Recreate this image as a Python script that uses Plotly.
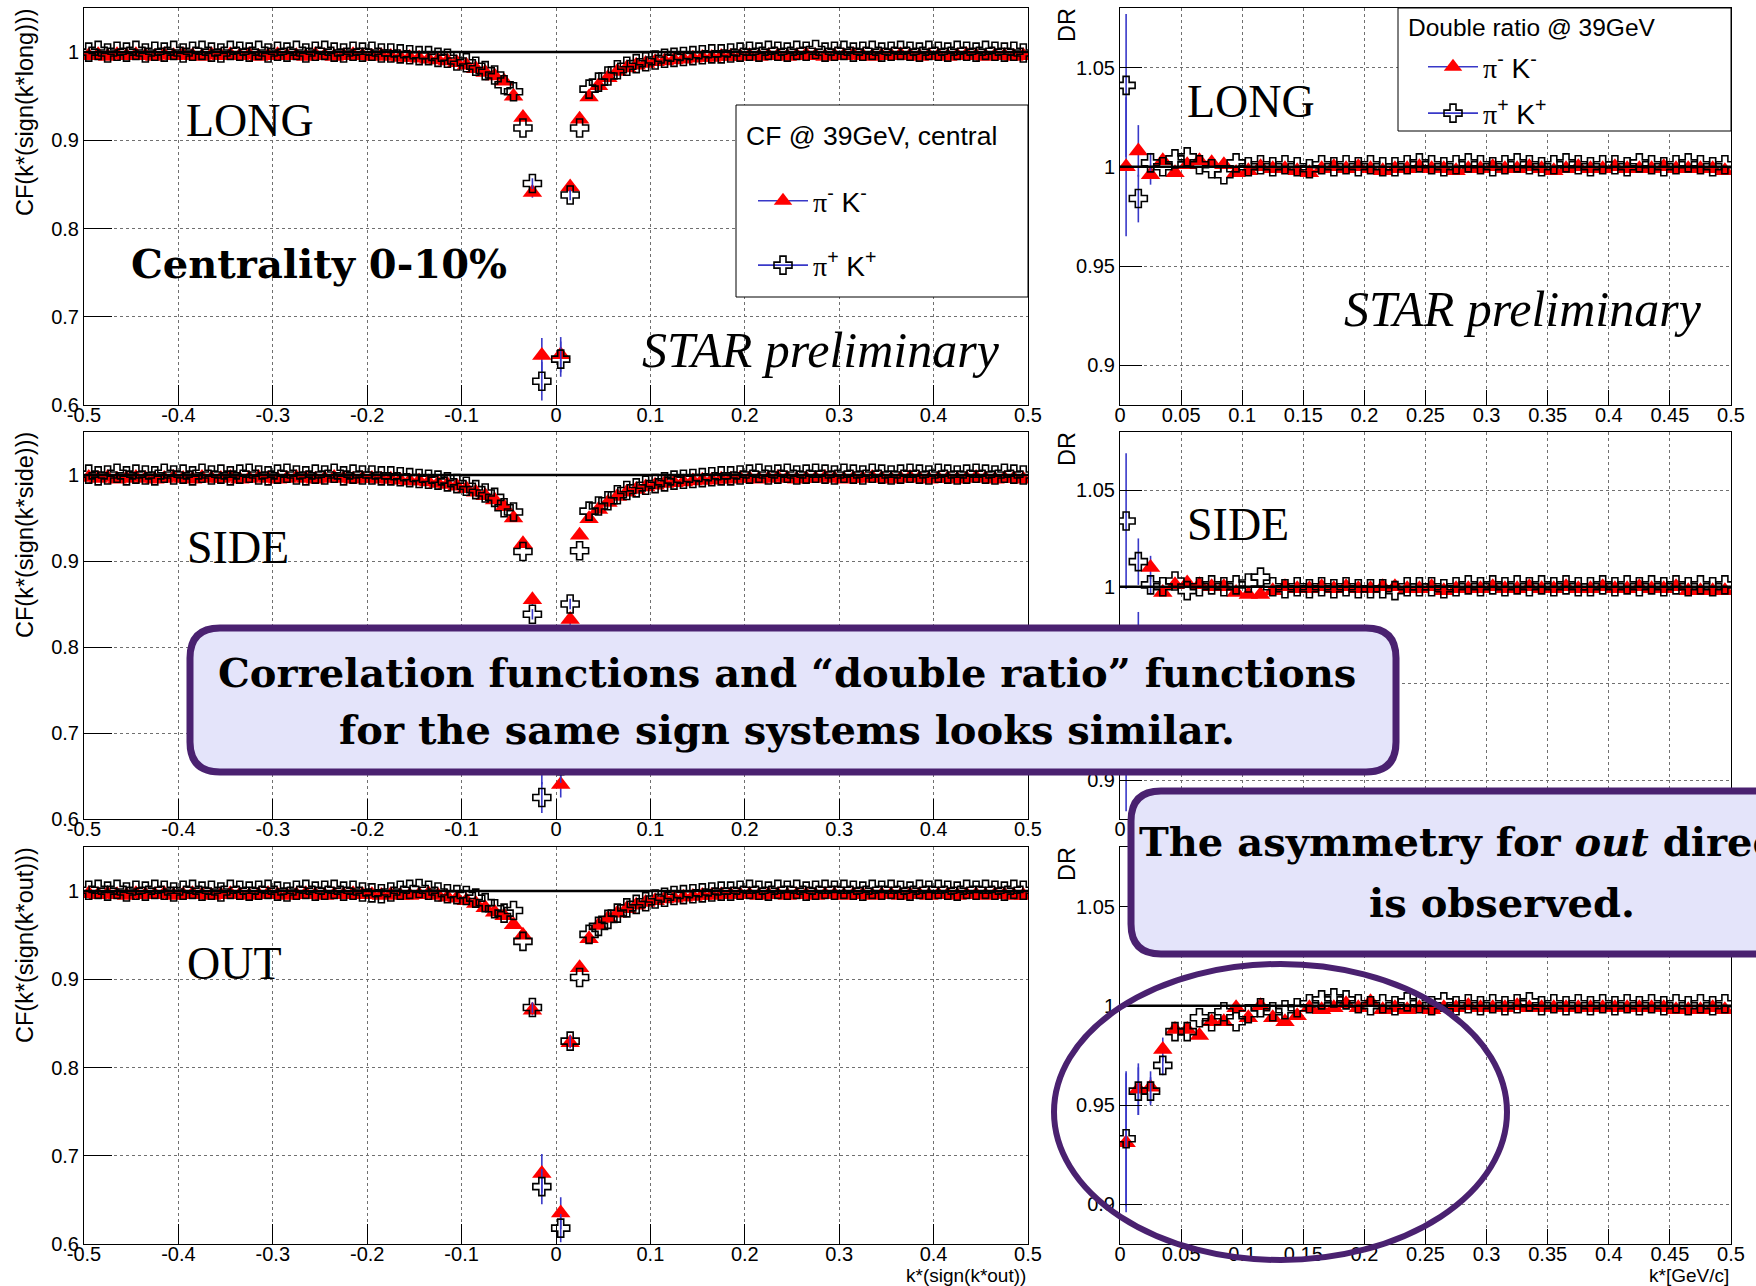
import plotly.graph_objects as go

W, H = 1756, 1286

# ---------------- data ----------------
K_CF = [round(-0.495 + 0.01 * i, 3) for i in range(100)]   # bin centres, k*(sign) [GeV/c]
K_DR = [round(0.005 + 0.01 * i, 3) for i in range(50)]     # bin centres, k* [GeV/c]

CF_LONG_PIMKM = [
    0.996, 0.997, 0.995, 0.997, 0.996, 0.997, 0.996, 0.995, 0.997, 0.996,
    0.997, 0.996, 0.995, 0.997, 0.996, 0.997, 0.996, 0.997, 0.995, 0.996,
    0.997, 0.996, 0.996, 0.995, 0.997, 0.996, 0.995, 0.996, 0.997, 0.996,
    0.995, 0.996, 0.995, 0.994, 0.994, 0.993, 0.992, 0.991, 0.990, 0.988,
    0.985, 0.981, 0.977, 0.973, 0.967, 0.950, 0.926, 0.841, 0.656, None,
    0.657, 0.847, 0.924, 0.949, 0.962, 0.971, 0.978, 0.982, 0.985, 0.987,
    0.989, 0.990, 0.991, 0.992, 0.993, 0.994, 0.994, 0.995, 0.995, 0.995,
    0.996, 0.995, 0.996, 0.996, 0.995, 0.996, 0.997, 0.996, 0.995, 0.996,
    0.996, 0.997, 0.996, 0.995, 0.996, 0.996, 0.997, 0.996, 0.995, 0.996,
    0.996, 0.995, 0.996, 0.997, 0.996, 0.995, 0.996, 0.996, 0.995, 0.996,
]
CF_LONG_PIPKP = [
    1.000, 1.002, 0.999, 1.001, 1.000, 1.002, 0.999, 1.001, 1.000, 1.002,
    0.999, 1.001, 1.002, 1.000, 0.999, 1.002, 1.001, 1.000, 1.002, 0.999,
    1.001, 1.000, 1.002, 0.999, 1.001, 1.002, 1.000, 0.999, 1.001, 1.000,
    1.001, 0.999, 0.999, 0.998, 0.997, 0.996, 0.996, 0.994, 0.993, 0.990,
    0.988, 0.984, 0.979, 0.974, 0.963, 0.955, 0.914, 0.851, 0.627, None,
    0.652, 0.838, 0.914, 0.958, 0.966, 0.973, 0.980, 0.984, 0.987, 0.989,
    0.991, 0.993, 0.994, 0.995, 0.996, 0.997, 0.998, 0.998, 0.999, 1.000,
    1.001, 1.000, 1.002, 1.001, 1.000, 1.002, 1.001, 1.003, 1.000, 1.001,
    1.002, 1.000, 1.001, 1.002, 1.000, 1.001, 1.002, 1.001, 1.000, 1.002,
    1.001, 1.000, 1.002, 1.001, 1.000, 1.002, 1.001, 1.000, 1.001, 0.999,
]
CF_SIDE_PIMKM = [
    0.997, 0.996, 0.997, 0.995, 0.996, 0.997, 0.996, 0.995, 0.996, 0.997,
    0.996, 0.995, 0.997, 0.996, 0.996, 0.997, 0.995, 0.996, 0.997, 0.996,
    0.995, 0.996, 0.997, 0.996, 0.995, 0.996, 0.997, 0.996, 0.995, 0.996,
    0.996, 0.995, 0.995, 0.994, 0.993, 0.993, 0.992, 0.990, 0.989, 0.987,
    0.984, 0.980, 0.976, 0.971, 0.963, 0.950, 0.920, 0.855, 0.660, None,
    0.640, 0.832, 0.930, 0.949, 0.960, 0.968, 0.975, 0.980, 0.983, 0.986,
    0.988, 0.990, 0.991, 0.992, 0.993, 0.994, 0.994, 0.995, 0.995, 0.996,
    0.996, 0.995, 0.996, 0.997, 0.996, 0.995, 0.996, 0.996, 0.997, 0.996,
    0.995, 0.996, 0.996, 0.997, 0.996, 0.995, 0.996, 0.997, 0.996, 0.995,
    0.996, 0.996, 0.995, 0.996, 0.997, 0.996, 0.995, 0.996, 0.996, 0.995,
]
CF_SIDE_PIPKP = [
    1.001, 0.999, 1.000, 1.002, 0.999, 1.001, 1.000, 0.999, 1.002, 1.000,
    1.001, 0.999, 1.002, 1.000, 1.001, 0.999, 1.001, 1.002, 1.000, 0.999,
    1.001, 1.002, 1.000, 0.999, 1.001, 1.000, 1.002, 0.999, 1.001, 1.000,
    1.000, 0.999, 0.999, 0.998, 0.997, 0.996, 0.995, 0.994, 0.992, 0.990,
    0.987, 0.983, 0.979, 0.974, 0.962, 0.957, 0.911, 0.838, 0.625, None,
    0.662, 0.850, 0.912, 0.958, 0.964, 0.970, 0.977, 0.982, 0.985, 0.988,
    0.990, 0.992, 0.994, 0.995, 0.996, 0.997, 0.998, 0.999, 0.999, 1.000,
    1.001, 1.002, 1.000, 1.001, 1.002, 1.000, 1.001, 1.002, 1.001, 1.000,
    1.002, 1.001, 1.000, 1.002, 1.001, 1.000, 1.001, 1.002, 1.001, 1.000,
    1.002, 1.001, 1.000, 1.001, 1.002, 1.001, 1.000, 1.002, 1.001, 1.000,
]
CF_OUT_PIMKM = [
    0.997, 0.996, 0.997, 0.996, 0.995, 0.997, 0.996, 0.996, 0.997, 0.995,
    0.996, 0.997, 0.996, 0.995, 0.996, 0.997, 0.996, 0.995, 0.996, 0.997,
    0.996, 0.995, 0.996, 0.997, 0.996, 0.995, 0.996, 0.996, 0.997, 0.996,
    0.996, 0.995, 0.996, 0.995, 0.995, 0.996, 0.997, 0.995, 0.993, 0.992,
    0.989, 0.986, 0.981, 0.976, 0.972, 0.962, 0.950, 0.865, 0.680, None,
    0.635, 0.828, 0.913, 0.946, 0.961, 0.969, 0.975, 0.980, 0.984, 0.987,
    0.989, 0.991, 0.992, 0.993, 0.994, 0.995, 0.995, 0.996, 0.996, 0.996,
    0.996, 0.995, 0.996, 0.996, 0.995, 0.996, 0.996, 0.995, 0.996, 0.996,
    0.995, 0.996, 0.996, 0.995, 0.996, 0.996, 0.995, 0.996, 0.996, 0.995,
    0.996, 0.996, 0.995, 0.996, 0.996, 0.995, 0.996, 0.996, 0.995, 0.995,
]
CF_OUT_PIPKP = [
    1.001, 1.002, 1.000, 1.002, 0.999, 1.001, 1.000, 1.002, 1.001, 0.999,
    1.001, 1.002, 1.000, 1.001, 0.999, 1.002, 1.001, 1.000, 1.001, 1.002,
    1.000, 0.999, 1.001, 1.002, 1.000, 1.001, 1.002, 1.000, 1.001, 0.999,
    0.998, 0.997, 0.999, 1.001, 1.002, 1.003, 1.001, 0.999, 0.997, 0.996,
    0.995, 0.992, 0.987, 0.980, 0.975, 0.978, 0.943, 0.868, 0.665, None,
    0.618, 0.830, 0.902, 0.951, 0.960, 0.968, 0.975, 0.981, 0.985, 0.988,
    0.991, 0.993, 0.995, 0.996, 0.997, 0.998, 0.999, 1.000, 1.000, 1.001,
    1.002, 1.001, 1.000, 1.002, 1.001, 1.002, 1.000, 1.001, 1.002, 1.001,
    1.002, 1.001, 1.000, 1.002, 1.001, 1.002, 1.001, 1.000, 1.002, 1.001,
    1.002, 1.001, 1.000, 1.002, 1.001, 1.002, 1.001, 1.000, 1.002, 1.001,
]

DR_LONG_PIMKM = [
    1.000, 1.008, 0.996, 1.003, 0.997, 1.001, 1.003, 1.002, 1.001, 0.997,
    0.998, 1.000, 0.999, 0.999, 0.998, 0.997, 0.999, 1.000, 0.999, 1.000,
    0.999, 0.998, 0.999, 0.999, 1.000, 0.999, 0.999, 0.998, 0.999, 0.999,
    1.000, 0.999, 0.999, 1.000, 0.999, 0.998, 0.999, 1.000, 0.999, 0.999,
    1.000, 0.999, 0.999, 0.999, 1.000, 0.999, 0.999, 0.999, 0.999, 0.998,
]
DR_LONG_PIPKP = [
    1.041, 0.984, 1.002, 1.000, 1.004, 1.005, 1.001, 0.999, 0.996, 1.002,
    1.000, 1.001, 1.000, 1.001, 1.000, 0.999, 1.001, 1.000, 1.001, 1.000,
    1.001, 1.000, 1.000, 1.001, 1.002, 1.001, 1.000, 1.001, 1.002, 1.001,
    1.000, 1.001, 1.002, 1.001, 1.000, 1.001, 1.002, 1.001, 1.000, 1.001,
    1.001, 1.000, 1.002, 1.001, 1.000, 1.001, 1.002, 1.001, 1.000, 1.001,
]
DR_SIDE_PIMKM = [
    0.930, 0.972, 1.010, 0.997, 1.001, 1.002, 1.001, 1.000, 1.000, 0.997,
    0.996, 0.996, 0.998, 1.000, 0.999, 0.999, 1.000, 0.999, 1.000, 0.999,
    0.999, 1.000, 1.000, 0.999, 0.999, 1.000, 0.998, 0.999, 0.999, 0.999,
    1.000, 0.999, 0.999, 1.000, 0.999, 0.999, 1.000, 0.999, 0.999, 1.000,
    0.999, 0.999, 1.000, 0.999, 0.999, 1.000, 0.998, 0.998, 0.998, 0.998,
]
DR_SIDE_PIPKP = [
    1.034, 1.013, 1.001, 1.000, 1.003, 0.998, 1.000, 1.001, 1.000, 1.001,
    1.002, 1.005, 1.000, 0.999, 1.000, 0.999, 1.000, 0.999, 1.000, 0.999,
    0.999, 0.999, 0.998, 1.000, 1.000, 1.000, 0.999, 1.000, 1.001, 1.000,
    1.001, 1.000, 1.001, 1.000, 1.001, 1.000, 1.001, 1.000, 1.000, 1.001,
    1.000, 1.001, 1.000, 1.001, 1.000, 1.001, 1.000, 1.001, 1.000, 1.001,
]
DR_OUT_PIMKM = [
    0.931, 0.958, 0.959, 0.978, 0.988, 0.988, 0.985, 0.992, 0.992, 0.999,
    0.994, 1.000, 0.994, 0.992, 0.995, 0.999, 0.998, 0.999, 1.001, 0.999,
    1.002, 0.998, 0.999, 0.998, 0.999, 0.998, 0.999, 0.999, 1.000, 0.999,
    0.999, 0.999, 1.000, 0.999, 0.999, 0.999, 0.999, 0.999, 0.999, 0.999,
    0.999, 0.999, 0.999, 0.999, 0.999, 0.998, 0.998, 0.998, 0.999, 0.998,
]
DR_OUT_PIPKP = [
    0.933, 0.957, 0.957, 0.970, 0.987, 0.987, 0.994, 0.992, 0.997, 0.992,
    0.996, 0.999, 0.997, 0.998, 0.999, 1.001, 1.003, 1.004, 1.003, 1.001,
    1.000, 1.001, 1.000, 1.002, 1.001, 1.000, 1.002, 1.000, 1.001, 1.000,
    1.001, 1.000, 1.001, 1.002, 1.000, 1.001, 1.000, 1.001, 1.000, 1.001,
    1.000, 1.001, 1.000, 1.001, 1.000, 1.001, 1.000, 1.001, 1.000, 1.001,
]

# statistical errors (only visible ones listed; others hidden by markers)
ERR_CF_LONG_PIMKM = {-0.025: 0.006, -0.015: 0.02, 0.005: 0.02, 0.015: 0.006}
ERR_CF_LONG_PIPKP = {-0.025: 0.006, -0.015: 0.022, 0.005: 0.02, 0.015: 0.006}
ERR_CF_SIDE_PIMKM = {-0.025: 0.006, -0.015: 0.02, 0.005: 0.015, 0.015: 0.006}
ERR_CF_SIDE_PIPKP = {-0.025: 0.006, -0.015: 0.018, 0.005: 0.02, 0.015: 0.006}
ERR_CF_OUT_PIMKM = {-0.025: 0.006, -0.015: 0.022, 0.005: 0.018, 0.015: 0.006}
ERR_CF_OUT_PIPKP = {-0.025: 0.006, -0.015: 0.02, 0.005: 0.016, 0.015: 0.006}
ERR_DR_LONG_PIMKM = {0.005: 0.035, 0.015: 0.013, 0.025: 0.005}
ERR_DR_LONG_PIPKP = {0.005: 0.036, 0.015: 0.012, 0.025: 0.005}
ERR_DR_SIDE_PIMKM = {0.005: 0.046, 0.015: 0.015, 0.025: 0.006}
ERR_DR_SIDE_PIPKP = {0.005: 0.035, 0.015: 0.012, 0.025: 0.005}
ERR_DR_OUT_PIMKM = {0.005: 0.035, 0.015: 0.013, 0.025: 0.008, 0.035: 0.006}
ERR_DR_OUT_PIPKP = {0.005: 0.034, 0.015: 0.012, 0.025: 0.007, 0.035: 0.005}

CF_XTICKS = [-0.5, -0.4, -0.3, -0.2, -0.1, 0.0, 0.1, 0.2, 0.3, 0.4, 0.5]
CF_XTICKTEXT = ["-0.5", "-0.4", "-0.3", "-0.2", "-0.1", "0", "0.1", "0.2", "0.3", "0.4", "0.5"]
CF_YTICKS = [0.6, 0.7, 0.8, 0.9, 1.0]
CF_YTICKTEXT = ["0.6", "0.7", "0.8", "0.9", "1"]
DR_XTICKS = [0, 0.05, 0.1, 0.15, 0.2, 0.25, 0.3, 0.35, 0.4, 0.45, 0.5]
DR_XTICKTEXT = ["0", "0.05", "0.1", "0.15", "0.2", "0.25", "0.3", "0.35", "0.4", "0.45", "0.5"]
DR_YTICKS = [0.9, 0.95, 1.0, 1.05]
DR_YTICKTEXT = ["0.9", "0.95", "1", "1.05"]

CF_YTITLES = ["CF(k*(sign(k*long)))", "CF(k*(sign(k*side)))", "CF(k*(sign(k*out)))"]
SERIES_NAMES = ["<span style='font-family:Liberation Serif'>π</span><sup>-</sup> K<sup>-</sup>",
                "<span style='font-family:Liberation Serif'>π</span><sup>+</sup> K<sup>+</sup>"]

# ---------------- styling ----------------
RED = "#ff0000"
BLUE = "#3838c8"
PURPLE = "#4a2170"
LAVENDER = "#e4e4fa"
SANS = "Liberation Sans"
SERIF = "Liberation Serif"
BOLDSERIF = "DejaVu Serif"
TRI = dict(symbol="triangle-up", size=17, color=RED, line=dict(width=0))
CRS = dict(symbol="cross-open", size=15, color="black", line=dict(width=1.6, color="black"))


def fx(px):
    return px / W


def fy(py):
    return 1 - py / H


# panel rectangles (pixels): kind, left, right, top, bottom
PANELS = [
    ("cf", 84, 1028, 8, 405),
    ("dr", 1120, 1731, 8, 405),
    ("cf", 84, 1028, 432, 819),
    ("dr", 1120, 1731, 432, 819),
    ("cf", 84, 1028, 847, 1244),
    ("dr", 1120, 1731, 847, 1244),
]

CF_DATA = [
    (CF_LONG_PIMKM, CF_LONG_PIPKP, ERR_CF_LONG_PIMKM, ERR_CF_LONG_PIPKP),
    (CF_SIDE_PIMKM, CF_SIDE_PIPKP, ERR_CF_SIDE_PIMKM, ERR_CF_SIDE_PIPKP),
    (CF_OUT_PIMKM, CF_OUT_PIPKP, ERR_CF_OUT_PIMKM, ERR_CF_OUT_PIPKP),
]
DR_DATA = [
    (DR_LONG_PIMKM, DR_LONG_PIPKP, ERR_DR_LONG_PIMKM, ERR_DR_LONG_PIPKP),
    (DR_SIDE_PIMKM, DR_SIDE_PIPKP, ERR_DR_SIDE_PIMKM, ERR_DR_SIDE_PIPKP),
    (DR_OUT_PIMKM, DR_OUT_PIPKP, ERR_DR_OUT_PIMKM, ERR_DR_OUT_PIPKP),
]

fig = go.Figure()
layout = {}
shapes = []
annotations = []

for i, (kind, l, r, t, b) in enumerate(PANELS):
    n = i + 1
    xa = "x" if n == 1 else f"x{n}"
    ya = "y" if n == 1 else f"y{n}"
    xkey = "xaxis" if n == 1 else f"xaxis{n}"
    ykey = "yaxis" if n == 1 else f"yaxis{n}"
    common = dict(
        showline=True, mirror=True, linecolor="black", linewidth=1,
        ticks="inside", tickcolor="black", tickwidth=1,
        showgrid=True, gridcolor="#707070", griddash="dot", gridwidth=1,
        zeroline=False, automargin=False,
        tickfont=dict(family=SANS, size=20, color="black"),
    )
    if kind == "cf":
        layout[xkey] = dict(common, domain=[fx(l), fx(r)], anchor=ya, range=[-0.5, 0.5],
                            tickmode="array", tickvals=CF_XTICKS, ticktext=CF_XTICKTEXT,
                            ticklen=20, ticklabelstandoff=-8)
        layout[ykey] = dict(common, domain=[fy(b), fy(t)], anchor=xa, range=[0.6, 1.05],
                            tickmode="array", tickvals=CF_YTICKS, ticktext=CF_YTICKTEXT, ticklen=28)
        xs = K_CF
        red, crs, ered, ecrs = CF_DATA[i // 2]
    else:
        layout[xkey] = dict(common, domain=[fx(l), fx(r)], anchor=ya, range=[0, 0.5],
                            tickmode="array", tickvals=DR_XTICKS, ticktext=DR_XTICKTEXT,
                            ticklen=15, ticklabelstandoff=-8)
        layout[ykey] = dict(common, domain=[fy(b), fy(t)], anchor=xa, range=[0.88, 1.08],
                            tickmode="array", tickvals=DR_YTICKS, ticktext=DR_YTICKTEXT, ticklen=22)
        xs = K_DR
        red, crs, ered, ecrs = DR_DATA[i // 2]

    fig.add_trace(go.Scatter(
        x=xs, y=red, xaxis=xa, yaxis=ya, mode="markers", showlegend=False, marker=TRI,
        error_y=dict(type="data", array=[ered.get(k, 0) for k in xs], color=BLUE, thickness=1.6, width=0),
    ))
    fig.add_trace(go.Scatter(
        x=xs, y=crs, xaxis=xa, yaxis=ya, mode="markers", showlegend=False, marker=CRS,
        error_y=dict(type="data", array=[ecrs.get(k, 0) for k in xs], color=BLUE, thickness=1.6, width=0),
    ))
    # reference line at unity
    shapes.append(dict(type="line", xref=f"{xa} domain", yref=ya, x0=0, x1=1, y0=1, y1=1,
                       line=dict(color="black", width=2.5), layer="above"))

    # axis titles (ROOT style, top aligned)
    annotations.append(dict(text=CF_YTITLES[i // 2] if kind == "cf" else "DR",
                            xref="paper", yref="paper",
                            x=fx(25 if kind == "cf" else 1067), y=fy(t - 2),
                            xanchor="center", yanchor="top", textangle=-90, showarrow=False,
                            font=dict(family=SANS, size=23.5, color="black")))

# legend boxes (ROOT TLegend look): white box + title, entries via plotly legends
shapes.append(dict(type="rect", xref="paper", yref="paper", x0=fx(736), x1=fx(1028), y0=fy(297), y1=fy(105),
                   fillcolor="white", line=dict(color="black", width=1), layer="above"))
shapes.append(dict(type="rect", xref="paper", yref="paper", x0=fx(1398), x1=fx(1731), y0=fy(131), y1=fy(8),
                   fillcolor="white", line=dict(color="black", width=1), layer="above"))
annotations.append(dict(text="CF @ 39GeV, central", xref="paper", yref="paper", x=fx(744), y=fy(136),
                        xanchor="left", yanchor="middle", showarrow=False,
                        font=dict(family=SANS, size=26.5, color="black")))
annotations.append(dict(text="Double ratio @ 39GeV", xref="paper", yref="paper", x=fx(1406), y=fy(27),
                        xanchor="left", yanchor="middle", showarrow=False,
                        font=dict(family=SANS, size=24.5, color="black")))

for leg, xa, ya, grp in (("legend", "x", "y", "a"), ("legend2", "x2", "y2", "c")):
    fig.add_trace(go.Scatter(x=[None], y=[None], xaxis=xa, yaxis=ya, mode="lines+markers",
                             name=SERIES_NAMES[0], legend=leg, legendgroup=grp + "1",
                             marker=TRI, line=dict(color=BLUE, width=1.6)))
    fig.add_trace(go.Scatter(x=[None], y=[None], xaxis=xa, yaxis=ya, mode="lines+markers",
                             name=SERIES_NAMES[1], legend=leg, legendgroup=grp + "2",
                             marker=CRS, line=dict(color=BLUE, width=1.6)))

# x axis titles
annotations.append(dict(text="k*(sign(k*out))", xref="paper", yref="paper", x=fx(1028), y=fy(1275),
                        xanchor="right", yanchor="middle", showarrow=False,
                        font=dict(family=SANS, size=19, color="black")))
annotations.append(dict(text="k*[GeV/c]", xref="paper", yref="paper", x=fx(1731), y=fy(1275),
                        xanchor="right", yanchor="middle", showarrow=False,
                        font=dict(family=SANS, size=19, color="black")))


# in-plot labels
def label(text, x, y, size=46, family=SERIF, anchor="left"):
    annotations.append(dict(text=text, xref="paper", yref="paper", x=fx(x), y=fy(y),
                            xanchor=anchor, yanchor="middle", showarrow=False,
                            font=dict(family=family, size=size, color="black")))


label("LONG", 184, 121)
label("LONG", 1185, 101)
label("SIDE", 185, 547)
label("SIDE", 1185, 524)
label("OUT", 185, 963)
label("<b>Centrality 0-10%</b>", 129, 263, size=40, family=BOLDSERIF)
label("<i>STAR preliminary</i>", 640, 350, size=50)
label("<i>STAR preliminary</i>", 1342, 309, size=50)


# rounded callout boxes
def rounded_path(x0, y0, x1, y1, rad):
    def p(x, y):
        return f"{fx(x):.5f},{fy(y):.5f}"
    return (f"M {p(x0 + rad, y0)} L {p(x1 - rad, y0)} Q {p(x1, y0)} {p(x1, y0 + rad)} "
            f"L {p(x1, y1 - rad)} Q {p(x1, y1)} {p(x1 - rad, y1)} "
            f"L {p(x0 + rad, y1)} Q {p(x0, y1)} {p(x0, y1 - rad)} "
            f"L {p(x0, y0 + rad)} Q {p(x0, y0)} {p(x0 + rad, y0)} Z")


shapes.append(dict(type="path", xref="paper", yref="paper", path=rounded_path(190, 628, 1396, 772, 30),
                   fillcolor=LAVENDER, line=dict(color=PURPLE, width=7), layer="above"))
shapes.append(dict(type="path", xref="paper", yref="paper", path=rounded_path(1131, 791, 1960, 954, 30),
                   fillcolor=LAVENDER, line=dict(color=PURPLE, width=7), layer="above"))
shapes.append(dict(type="circle", xref="paper", yref="paper",
                   x0=fx(1054), x1=fx(1507), y0=fy(1260), y1=fy(964),
                   line=dict(color=PURPLE, width=6), fillcolor="rgba(0,0,0,0)", layer="above"))

label("<b>Correlation functions and “double ratio” functions</b>", 787, 672, size=40, family=BOLDSERIF, anchor="center")
label("<b>for the same sign systems looks similar.</b>", 787, 730, size=40, family=BOLDSERIF, anchor="center")
label("<b>The asymmetry for <i>out</i> direction</b>", 1502, 842, size=40, family=BOLDSERIF, anchor="center")
label("<b>is observed.</b>", 1502, 902, size=40, family=BOLDSERIF, anchor="center")

leg_common = dict(xanchor="left", yanchor="top", bgcolor="rgba(0,0,0,0)", borderwidth=0,
                  font=dict(family=SANS, size=28, color="black"),
                  itemwidth=50, traceorder="grouped")

fig.update_layout(
    **layout,
    width=W, height=H,
    margin=dict(l=0, r=0, t=0, b=0),
    paper_bgcolor="white", plot_bgcolor="white",
    shapes=shapes, annotations=annotations,
    legend=dict(leg_common, x=fx(753), y=fy(176), tracegroupgap=25),
    legend2=dict(leg_common, x=fx(1423), y=fy(42), tracegroupgap=7),
)

fig.write_html("out.html")
